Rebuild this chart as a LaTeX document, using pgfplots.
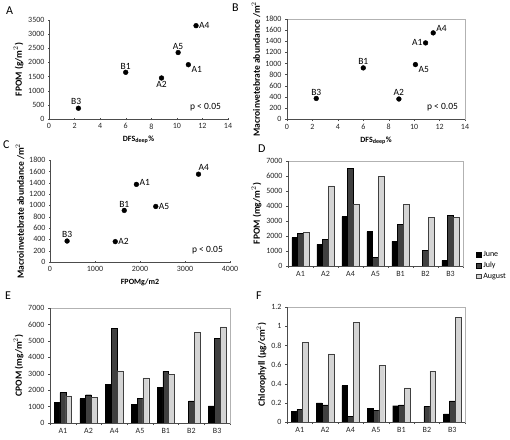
\documentclass[border=0pt]{standalone}
\usepackage{fontspec}
\setmainfont{Carlito}
\usepackage{pgfplots}
\pgfplotsset{compat=1.18}
\definecolor{julyc}{HTML}{404040}
\definecolor{augc}{HTML}{D4D4D4}
\pgfplotsset{
  base/.style={scale only axis, anchor=north west,
    tick label style={font=\fontsize{8}{9}\selectfont, black!85},
    ylabel style={font=\bfseries\fontsize{9.5}{11}\selectfont},
    xlabel style={font=\bfseries\fontsize{8}{9}\selectfont},
    /pgf/number format/assume math mode=true,
    /pgf/number format/1000 sep={},
    tick align=outside, major tick length=2pt,
    xtick pos=left, ytick pos=left,
    tick style={black!70},
    ylabel shift=-2pt, xlabel shift=0pt, clip=false},
  sc/.style={base, axis lines=left, axis line style={-,black!70}},
  framed/.style={axis line style={black!30},
    after end axis/.code={\draw[black!70] (rel axis cs:0,1) -- (rel axis cs:0,0) -- (rel axis cs:1,0);}},
  lab/.style={only marks, mark=*, mark size=2.4pt, black,
    nodes near coords, point meta=explicit symbolic,
    visualization depends on={value \thisrow{a}\as\anc},
    every node near coord/.append style={anchor=\anc, font=\fontsize{9.5}{11}\selectfont, inner sep=3pt, black}},
  bars/.style={base, framed, ybar=0pt, bar width=5.8pt, xmin=-0.5, xmax=6.5,
    xtick={0,...,6}, xticklabels={A1,A2,A4,A5,B1,B2,B3},
    minor xtick={-0.5,0.5,...,6.5}, major x tick style={draw=none},
    minor tick length=2pt, ymin=0},
  june/.style={fill=black, draw=black},
  july/.style={fill=julyc, draw=black},
  aug/.style={fill=augc, draw=julyc},
}
\newcommand{\pv}{\node[anchor=east, font=\fontsize{9.5}{11}\selectfont] at (rel axis cs:0.98,0.12) {p < 0.05};}
\begin{document}
\begin{tikzpicture}
\useasboundingbox (0,0) rectangle (510pt,-439pt);
\tikzset{pl/.style={font=\fontsize{12}{14}\selectfont, anchor=north west, inner sep=0pt}}
\node[pl] at (6pt,-7pt) {A};
\node[pl] at (232pt,-4pt) {B};
\node[pl] at (3pt,-141pt) {C};
\node[pl] at (258pt,-145pt) {D};
\node[pl] at (5pt,-292pt) {E};
\node[pl] at (256pt,-292pt) {F};

% A
\begin{axis}[sc, at={(49pt,-20pt)}, width=179pt, height=99pt,
  xmin=0, xmax=14, xtick={0,2,...,14}, ymin=0, ymax=3500, ytick={0,500,...,3500},
  ylabel={FPOM (g/m$^2$)}, xlabel={DFS\textsubscript{deep}\%}]
\addplot[lab] table[meta=l] {
x y l a
2.3 380 B3 -70
6.0 1650 B1 south
8.8 1450 A2 north
10.1 2350 A5 south
10.9 1920 A1 150
11.5 3300 A4 west
};
\pv
\end{axis}

% B
\begin{axis}[base, framed, at={(287pt,-19pt)}, width=178pt, height=100pt,
  xmin=0, xmax=14, xtick={0,2,...,14}, ymin=0, ymax=1800, ytick={0,200,...,1800},
  ylabel={Macroinvetebrate abundance /m$^2$}, xlabel={DFS\textsubscript{deep}\%}]
\addplot[lab] table[meta=l] {
x y l a
2.3 370 B3 south
6.0 920 B1 south
8.8 360 A2 south
10.1 980 A5 150
10.9 1370 A1 east
11.5 1550 A4 -150
};
\pv
\end{axis}

% C
\begin{axis}[sc, at={(50pt,-160pt)}, width=180pt, height=102pt,
  xmin=0, xmax=4000, xtick={0,1000,...,4000}, ymin=0, ymax=1800, ytick={0,200,...,1800},
  ylabel={Macroinvetebrate abundance /m$^2$}, xlabel={FPOMg/m2}]
\addplot[lab] table[meta=l] {
x y l a
380 370 B3 south
1450 360 A2 west
1650 910 B1 south
1920 1370 A1 -170
2350 980 A5 west
3300 1550 A4 -130
};
\pv
\end{axis}

% D
\begin{axis}[bars, at={(288pt,-161pt)}, width=175pt, height=105pt,
  ymax=7000, ytick={0,1000,...,7000}, ylabel={FPOM (mg/m$^2$)},
  legend style={at={(1.07,0.17)}, anchor=north west, draw=none, fill=none,
    font=\fontsize{8}{9}\selectfont, row sep=0pt, inner sep=1pt},
  legend cell align=left,
  legend image code/.code={\draw[#1] (0pt,-2.2pt) rectangle (4.4pt,2.2pt);}]
\addplot[june] coordinates {(0,1900) (1,1450) (2,3300) (3,2300) (4,1650) (5,0) (6,380)};
\addplot[july] coordinates {(0,2200) (1,1800) (2,6500) (3,600) (4,2800) (5,1050) (6,3400)};
\addplot[aug] coordinates {(0,2250) (1,5350) (2,4100) (3,6000) (4,4100) (5,3250) (6,3250)};
\legend{June,July,August}
\end{axis}

% E
\begin{axis}[bars, at={(50pt,-308pt)}, width=180pt, height=115pt,
  ymax=7000, ytick={0,1000,...,7000}, ylabel={CPOM (mg/m$^2$)}]
\addplot[june] coordinates {(0,1250) (1,1480) (2,2350) (3,1130) (4,2150) (5,0) (6,1050)};
\addplot[july] coordinates {(0,1850) (1,1720) (2,5750) (3,1500) (4,3150) (5,1350) (6,5150)};
\addplot[aug] coordinates {(0,1650) (1,1580) (2,3180) (3,2750) (4,2950) (5,5500) (6,5850)};
\end{axis}

% F
\begin{axis}[bars, at={(287pt,-307pt)}, width=178pt, height=115pt,
  ymax=1.2, ytick={0,0.2,0.4,0.6,0.8,1,1.2}, yticklabels={0,0.2,0.4,0.6,0.8,1,1.2},
  ylabel={Chlorophyll (µg/cm$^2$)}]
\addplot[june] coordinates {(0,0.11) (1,0.20) (2,0.38) (3,0.14) (4,0.17) (5,0) (6,0.085)};
\addplot[july] coordinates {(0,0.13) (1,0.18) (2,0.06) (3,0.125) (4,0.18) (5,0.16) (6,0.22)};
\addplot[aug] coordinates {(0,0.83) (1,0.71) (2,1.04) (3,0.59) (4,0.355) (5,0.53) (6,1.09)};
\end{axis}
\end{tikzpicture}
\end{document}
